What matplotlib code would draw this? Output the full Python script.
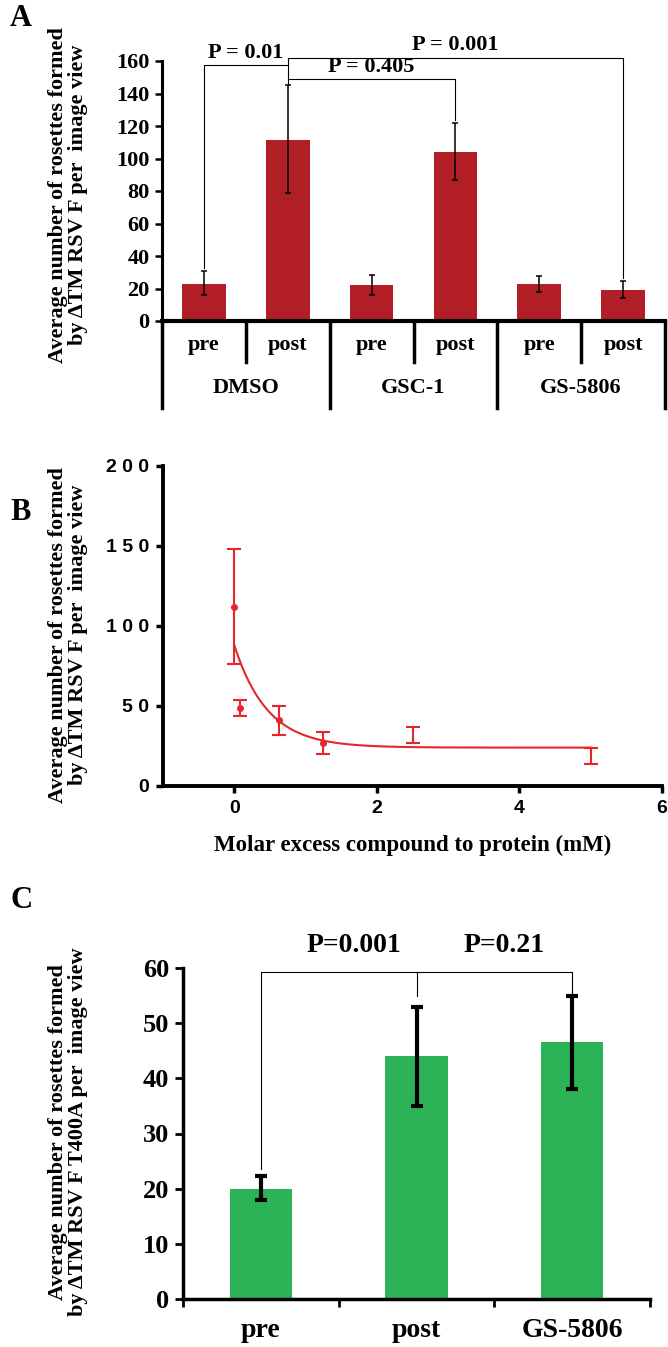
import numpy as np
import matplotlib
matplotlib.use("Agg")
import matplotlib.pyplot as plt
import matplotlib.transforms as mtransforms

serif = "Liberation Serif"
sans = "Liberation Sans"

# ---- panel A data
a_groups = ["DMSO", "GSC-1", "GS-5806"]
a_sub = ["pre", "post", "pre", "post", "pre", "post"]
a_mean = [23, 111.5, 22, 104, 22.5, 19]
a_low = [16, 79, 16, 87, 18, 14]
a_high = [30.5, 145, 28.5, 122, 27.5, 24.5]

# ---- panel B data
b_x = [0, 0.08, 0.625, 1.25, 2.5, 5]
b_mean = [112, 49, 41, 27, 32, 19]
b_low = [76, 44, 32, 20, 27, 14]
b_high = [148, 54, 50, 34, 37, 24]
b_dot = [True, True, True, True, False, False]
# one-phase decay fit: plateau + span * exp(-k x)
fit_plateau = 24
fit_span = 64
fit_k = 2.15

# ---- panel C data
c_cats = ["pre", "post", "GS-5806"]
c_mean = [20, 44, 46.5]
c_low = [18, 35, 38]
c_high = [22.3, 53, 55]

W, H = 668, 1347
fig = plt.figure(figsize=(W / 100, H / 100), dpi=100)


def ax_at(left, right, top, bottom):
    return fig.add_axes([left / W, 1 - bottom / H, (right - left) / W, (bottom - top) / H])


def bold(size, fam=serif):
    return dict(fontsize=size, fontweight="bold", family=fam)


ylab1 = "Average number of rosettes formed\nby \u0394TM RSV F per  image view"
ylab3 = "Average number of rosettes formed\nby \u0394TM RSV F T400A per  image view"

# ================= Panel A
ax = ax_at(162, 665, 61, 321)
xa = np.arange(len(a_mean))
err = [np.array(a_mean) - np.array(a_low), np.array(a_high) - np.array(a_mean)]
ax.bar(xa, a_mean, width=0.52, color="#b21e25", zorder=2)
ax.errorbar(xa, a_mean, yerr=err, fmt="none", ecolor="black", elinewidth=1.1,
            capsize=2.5, capthick=1.1, zorder=3)
ax.set_xlim(-0.5, 5.5)
ax.set_ylim(0, 160)
ax.set_yticks(range(0, 161, 20))
ax.set_xticks([])
for s in ["top", "right"]:
    ax.spines[s].set_visible(False)
ax.spines["left"].set_linewidth(2.2)
ax.spines["bottom"].set_linewidth(3)
ax.tick_params(axis="y", direction="out", length=5, width=1.8, pad=4)
for lab in ax.get_yticklabels():
    lab.set_fontproperties(dict(size=16, weight="bold", family=serif))

tr = mtransforms.blended_transform_factory(ax.transData, ax.transAxes)
for xs in [0.5, 2.5, 4.5]:
    ax.plot([xs, xs], [0, -0.158], color="black", lw=2.5, transform=tr, clip_on=False)
for xs in [-0.5, 1.5, 3.5, 5.5]:
    ax.plot([xs, xs], [0, -0.335], color="black", lw=2.5, transform=tr, clip_on=False)
for i, s in enumerate(a_sub):
    ax.text(i, -0.092, s, transform=tr, ha="center", va="center", **bold(16))
for g, name in enumerate(a_groups):
    ax.text(2 * g + 0.5, -0.258, name, transform=tr, ha="center", va="center", **bold(16))

# significance brackets
bk = dict(color="black", lw=0.8, clip_on=False)
ax.plot([0, 0, 1], [a_high[0] + 2, 157.5, 157.5], **bk)
ax.plot([1, 1], [a_high[1] + 1, 162], **bk)
ax.plot([1, 5, 5], [162, 162, a_high[5] + 2], **bk)
ax.plot([1, 2, 3, 3], [149, 149, 149, a_high[3] + 2], **bk)
ax.text(0.5, 158.5, "P = 0.01", ha="center", va="bottom", **bold(16))
ax.text(2.0, 150, "P = 0.405", ha="center", va="bottom", **bold(16))
ax.text(3.0, 163.5, "P = 0.001", ha="center", va="bottom", **bold(16))

fig.text(68 / W, 1 - 195 / H, ylab1, rotation=90, ha="center", va="center",
         multialignment="center", linespacing=1.0, **bold(16))
fig.text(10 / W, 1 - 18 / H, "A", ha="left", va="center", **bold(22))

# ================= Panel B
bx = ax_at(163, 662, 466, 786)
red = "#e5262c"
bm = np.array(b_mean)
berr = [bm - np.array(b_low), np.array(b_high) - bm]
bx.errorbar(b_x, b_mean, yerr=berr, fmt="none", ecolor=red, elinewidth=1.5,
            capsize=5, capthick=1.5, zorder=3)
dx = [x for x, d in zip(b_x, b_dot) if d]
dy = [y for y, d in zip(b_mean, b_dot) if d]
bx.plot(dx, dy, "o", color=red, ms=4, zorder=4)
xf = np.linspace(0, max(b_x), 200)
bx.plot(xf, fit_plateau + fit_span * np.exp(-fit_k * xf), color=red, lw=1.5, zorder=2)
bx.set_xlim(-1, 6)
bx.set_ylim(0, 200)
bx.set_xticks([0, 2, 4, 6])
bx.set_yticks([0, 50, 100, 150, 200])
bx.set_yticklabels(["0", "5 0", "1 0 0", "1 5 0", "2 0 0"])
for s in ["top", "right"]:
    bx.spines[s].set_visible(False)
bx.spines["left"].set_linewidth(2.8)
bx.spines["bottom"].set_linewidth(2.8)
bx.tick_params(direction="out", length=5, width=2.5, pad=5)
for lab in bx.get_yticklabels() + bx.get_xticklabels():
    lab.set_fontproperties(dict(size=14, weight="bold", family=sans))
bx.set_xlabel("Molar excess compound to protein (mM)", labelpad=13, **bold(16.5))
fig.text(68 / W, 1 - 635 / H, ylab1, rotation=90, ha="center", va="center",
         multialignment="center", linespacing=1.0, **bold(16))
fig.text(10 / W, 1 - 512 / H, "B", ha="left", va="center", **bold(22))

# ================= Panel C
cx = ax_at(183, 650, 968, 1299)
xc = np.arange(len(c_mean))
cm = np.array(c_mean)
cerr = [cm - np.array(c_low), np.array(c_high) - cm]
cx.bar(xc, c_mean, width=0.4, color="#2db357", zorder=2)
cx.errorbar(xc, c_mean, yerr=cerr, fmt="none", ecolor="black", elinewidth=3,
            capsize=4, capthick=3, zorder=3)
cx.set_xlim(-0.5, 2.5)
cx.set_ylim(0, 60)
cx.set_yticks(range(0, 61, 10))
cx.set_xticks(xc)
cx.set_xticklabels(c_cats)
cx.set_xticks([-0.5, 0.5, 1.5, 2.5], minor=True)
cx.tick_params(axis="x", which="major", length=0, pad=14)
cx.tick_params(axis="x", which="minor", direction="out", length=6, width=2)
cx.tick_params(axis="y", direction="out", length=6, width=2, pad=4)
for s in ["top", "right"]:
    cx.spines[s].set_visible(False)
cx.spines["left"].set_linewidth(2.5)
cx.spines["bottom"].set_linewidth(2.5)
for lab in cx.get_yticklabels():
    lab.set_fontproperties(dict(size=19, weight="bold", family=serif))
for lab in cx.get_xticklabels():
    lab.set_fontproperties(dict(size=20, weight="bold", family=serif))

bc = dict(color="black", lw=0.8, clip_on=False)
cx.plot([0, 0, 2, 2], [c_high[0] + 1.2, 59.2, 59.2, c_high[2] + 0.3], **bc)
cx.plot([1, 1], [c_high[1] + 2, 59.2], **bc)
cx.text(0.6, 61.8, "P=0.001", ha="center", va="bottom", **bold(20))
cx.text(1.56, 61.8, "P=0.21", ha="center", va="bottom", **bold(20))

fig.text(68 / W, 1 - 1132 / H, ylab3, rotation=90, ha="center", va="center",
         multialignment="center", linespacing=1.0, **bold(16))
fig.text(10 / W, 1 - 900 / H, "C", ha="left", va="center", **bold(22))

fig.savefig("out.png", dpi=100)
